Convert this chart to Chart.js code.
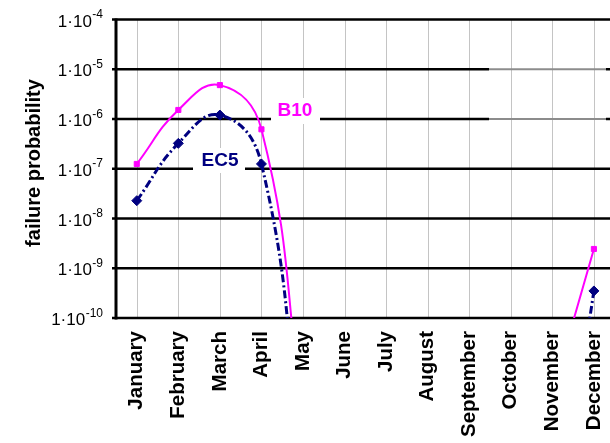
<!DOCTYPE html>
<html>
<head>
<meta charset="utf-8">
<script src="https://cdn.jsdelivr.net/npm/chart.js@4"></script>
<style>
  html, body { margin: 0; padding: 0; background: #fff; overflow: hidden; }
  #wrap { position: relative; width: 632px; height: 443px; }
</style>
</head>
<body>
<div id="wrap"><canvas id="c"></canvas></div>
<script>
// Monthly failure probability for the two criteria
const months = ['January', 'February', 'March', 'April', 'May', 'June', 'July',
                'August', 'September', 'October', 'November', 'December'];
const b10 = [1.25e-7, 1.52e-6, 4.8e-6, 6.2e-7, 1e-12, null, null, null, null, null, 3e-12, 2.44e-9];
const ec5 = [2.28e-8, 3.24e-7, 1.2e-6, 1.25e-7, 1e-13, null, null, null, null, null, 1e-15, 3.5e-10];
const decades = [1e-10, 1e-9, 1e-8, 1e-7, 1e-6, 1e-5, 1e-4];
const seriesNames = ['B10', 'EC5'];
const axisTitle = 'failure probability';

const FONT = '"Liberation Sans", Arial, Helvetica, sans-serif';
const MAGENTA = '#ff00ff';
const NAVY = '#000080';

// Gridlines, axis lines, exponent tick labels, axis title and series tags
const frame = {
  id: 'frame',
  beforeDatasetsDraw(chart) {
    const { ctx, chartArea: a, scales: { x, y } } = chart;
    ctx.save();

    // dotted vertical lines at each month
    ctx.strokeStyle = '#8a8a8a';
    ctx.lineWidth = 1;
    ctx.setLineDash([1, 1]);
    months.forEach((m, i) => {
      const px = Math.round(x.getPixelForTick(i)) + 0.5;
      ctx.beginPath();
      ctx.moveTo(px, a.top);
      ctx.lineTo(px, a.bottom);
      ctx.stroke();
    });
    ctx.setLineDash([]);

    // solid decade lines; the upper two fade to grey on the right
    const fadeX = (x.getPixelForTick(8) + x.getPixelForTick(9)) / 2 - 1;
    const right = chart.width;
    decades.forEach(v => {
      const py = y.getPixelForValue(v);
      const faded = (v === 1e-5 || v === 1e-6);
      ctx.lineWidth = 2.5;
      ctx.strokeStyle = '#000';
      ctx.beginPath();
      ctx.moveTo(a.left - 4, py);
      ctx.lineTo(faded ? fadeX : right, py);
      ctx.stroke();
      if (faded) {
        ctx.strokeStyle = '#8c8c8c';
        ctx.lineWidth = 2;
        ctx.beginPath();
        ctx.moveTo(fadeX, py);
        ctx.lineTo(right - 26, py);
        ctx.stroke();
        ctx.strokeStyle = '#000';
        ctx.lineWidth = 2.5;
        ctx.beginPath();
        ctx.moveTo(right - 26, py);
        ctx.lineTo(right - 21, py);
        ctx.stroke();
      }
    });

    // left axis line
    ctx.strokeStyle = '#000';
    ctx.lineWidth = 3;
    ctx.beginPath();
    ctx.moveTo(a.left, a.top - 1);
    ctx.lineTo(a.left, a.bottom + 1.5);
    ctx.stroke();

    // tick labels of the form 1·10^n
    ctx.fillStyle = '#000';
    const labelRight = a.left - 13;
    decades.forEach(v => {
      const py = y.getPixelForValue(v);
      const exp = String(Math.round(Math.log10(v)));
      ctx.font = '12px ' + FONT;
      const sw = ctx.measureText(exp).width;
      ctx.textAlign = 'left';
      ctx.textBaseline = 'alphabetic';
      ctx.fillText(exp, labelRight - sw, py - 1.5);
      ctx.font = '17px ' + FONT;
      ctx.textAlign = 'right';
      ctx.fillText('1\u00B710', labelRight - sw - 0.5, py + 7);
    });

    // rotated axis title
    ctx.save();
    ctx.translate(34, 163);
    ctx.rotate(-Math.PI / 2);
    ctx.font = 'bold 20px ' + FONT;
    ctx.textAlign = 'center';
    ctx.textBaseline = 'middle';
    ctx.fillText(axisTitle, 0, 0);
    ctx.restore();

    // series tags on white patches
    const tags = [
      { text: seriesNames[0], color: MAGENTA, cx: 295, cy: 110, x0: 271, x1: 320, y0: 98, y1: 124 },
      { text: seriesNames[1], color: NAVY, cx: 220, cy: 160, x0: 193, x1: 245, y0: 148, y1: 173 }
    ];
    tags.forEach(t => {
      ctx.fillStyle = '#fff';
      ctx.fillRect(t.x0, t.y0, t.x1 - t.x0, t.y1 - t.y0);
      ctx.fillStyle = t.color;
      ctx.font = 'bold 19px ' + FONT;
      ctx.textAlign = 'center';
      ctx.textBaseline = 'middle';
      ctx.fillText(t.text, t.cx, t.cy + 1);
    });

    ctx.restore();
  }
};

new Chart(document.getElementById('c'), {
  type: 'line',
  data: {
    labels: months,
    datasets: [
      {
        label: seriesNames[0],
        data: b10,
        borderColor: MAGENTA,
        backgroundColor: MAGENTA,
        borderWidth: 2,
        pointStyle: 'rect',
        pointRadius: 3.6,
        pointBorderWidth: 1,
        tension: 0.45
      },
      {
        label: seriesNames[1],
        data: ec5,
        borderColor: NAVY,
        backgroundColor: NAVY,
        borderWidth: 3,
        borderDash: [8, 3, 2, 3],
        pointStyle: 'rectRot',
        pointRadius: 5,
        pointBorderWidth: 1,
        tension: 0.45
      }
    ]
  },
  options: {
    responsive: true,
    maintainAspectRatio: false,
    animation: false,
    devicePixelRatio: 1,
    layout: { padding: { top: 19.5, right: 12, left: 0, bottom: 0 } },
    elements: { line: { capBezierPoints: false } },
    plugins: { legend: { display: false }, tooltip: { enabled: false } },
    scales: {
      x: {
        offset: true,
        grid: { display: false, drawTicks: false },
        border: { display: false },
        ticks: {
          autoSkip: false,
          maxRotation: 90,
          minRotation: 90,
          padding: 13,
          color: '#000',
          font: { family: FONT, size: 20.5, weight: 'bold' }
        },
        afterFit(s) { s.height = 125; }
      },
      y: {
        type: 'logarithmic',
        min: 1e-10,
        max: 1e-4,
        grid: { display: false, drawTicks: false },
        border: { display: false },
        ticks: { display: false },
        afterBuildTicks(s) { s.ticks = decades.map(v => ({ value: v })); },
        afterFit(s) { s.width = 116; }
      }
    }
  },
  plugins: [frame]
});
</script>
</body>
</html>
